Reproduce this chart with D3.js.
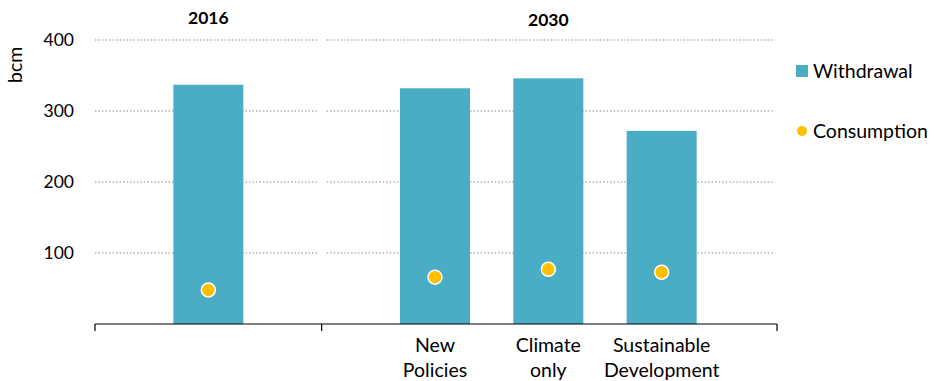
<!DOCTYPE html>
<html>
<head>
<meta charset="utf-8">
<script src="https://cdn.jsdelivr.net/npm/d3@7/dist/d3.min.js"></script>
<style>
  body { margin: 0; background: #fff; }
  svg { font-family: Lato, "Open Sans", sans-serif; }
</style>
</head>
<body>
<svg id="chart" width="934" height="381"></svg>
<script>
// Scenario categories along the x axis (position index, label lines)
const categories = [
  { key: "2016", pos: 1, label: [] },
  { key: "New Policies", pos: 3, label: ["New", "Policies"] },
  { key: "Climate only", pos: 4, label: ["Climate", "only"] },
  { key: "Sustainable Development", pos: 5, label: ["Sustainable", "Development"] }
];
// Water withdrawal and consumption, bcm
const withdrawal = [337, 332, 346, 272];
const consumption = [48, 66, 77, 73];
const yTicks = [100, 200, 300, 400];
const groups = [
  { label: "2016", from: 0, to: 2, center: 1 },
  { label: "2030", from: 2, to: 6, center: 4 }
];
const legendItems = ["Withdrawal", "Consumption"];

const barColor = "#4BACC6";
const dotColor = "#FFC000";

const svg = d3.select("#chart");
const x = d3.scaleLinear().domain([0, 6]).range([95, 775]);
const y = d3.scaleLinear().domain([0, 400]).range([324, 40]);
const barW = 70;

// Dotted gridlines, broken between the two year groups
groups.forEach((g, gi) => {
  const x0 = x(g.from) + (gi > 0 ? 5 : 0);
  const x1 = x(g.to) - (gi < groups.length - 1 ? 4 : 0);
  svg.append("g").selectAll("line")
    .data(yTicks).join("line")
    .attr("x1", x0).attr("x2", x1)
    .attr("y1", d => y(d)).attr("y2", d => y(d))
    .attr("stroke", "#8c8c8c")
    .attr("stroke-width", 1.2)
    .attr("stroke-dasharray", "1.5,2");
});

// Y tick labels
svg.append("g").selectAll("text")
  .data(yTicks).join("text")
  .attr("x", 74).attr("y", d => y(d))
  .attr("dy", "0.35em")
  .attr("text-anchor", "end")
  .attr("font-size", 17.5)
  .attr("fill", "#000")
  .text(d => d);

svg.append("text")
  .attr("transform", `translate(22,${y(365)}) rotate(-90)`)
  .attr("text-anchor", "middle")
  .attr("font-size", 19.5)
  .text("bcm");

// Withdrawal bars
svg.append("g").selectAll("rect")
  .data(categories).join("rect")
  .attr("x", d => x(d.pos) - barW / 2)
  .attr("width", barW)
  .attr("y", (d, i) => y(withdrawal[i]))
  .attr("height", (d, i) => y(0) - y(withdrawal[i]))
  .attr("fill", barColor);

// Consumption markers
svg.append("g").selectAll("circle")
  .data(categories).join("circle")
  .attr("cx", d => x(d.pos))
  .attr("cy", (d, i) => y(consumption[i]))
  .attr("r", 7)
  .attr("fill", dotColor)
  .attr("stroke", "#fff")
  .attr("stroke-width", 1.5);

// X axis line with group separators
const axisG = svg.append("g").attr("stroke", "#000").attr("stroke-width", 1.2);
axisG.append("line")
  .attr("x1", x(0)).attr("x2", x(6) + 2)
  .attr("y1", y(0)).attr("y2", y(0));
axisG.selectAll("line.tick")
  .data([0, 2, 6]).join("line")
  .attr("class", "tick")
  .attr("x1", d => x(d) + (d === 6 ? 2 : 0))
  .attr("x2", d => x(d) + (d === 6 ? 2 : 0))
  .attr("y1", y(0)).attr("y2", y(0) + 7);

// Scenario labels
const lab = svg.append("g").selectAll("text")
  .data(categories).join("text")
  .attr("text-anchor", "middle")
  .attr("font-size", 19.5)
  .attr("fill", "#000");
lab.selectAll("tspan")
  .data(d => d.label.map(t => ({ t, p: d.pos })))
  .join("tspan")
  .attr("x", d => x(d.p))
  .attr("y", (d, i) => 352 + i * 25)
  .text(d => d.t);

// Year headers
svg.append("g").selectAll("text")
  .data(groups).join("text")
  .attr("x", d => x(d.center))
  .attr("y", (d, i) => 18 + i * 2)
  .attr("dy", "0.35em")
  .attr("text-anchor", "middle")
  .attr("font-size", 17.5)
  .attr("font-weight", "bold")
  .text(d => d.label);

// Legend
const leg = svg.append("g");
leg.append("rect")
  .attr("x", 796).attr("y", 65)
  .attr("width", 12).attr("height", 12)
  .attr("fill", barColor);
leg.append("circle")
  .attr("cx", 802).attr("cy", 131).attr("r", 5)
  .attr("fill", dotColor);
leg.selectAll("text")
  .data(legendItems).join("text")
  .attr("x", 813)
  .attr("y", (d, i) => i === 0 ? 71 : 131)
  .attr("dy", "0.35em")
  .attr("font-size", 19.5)
  .text(d => d);
</script>
</body>
</html>
